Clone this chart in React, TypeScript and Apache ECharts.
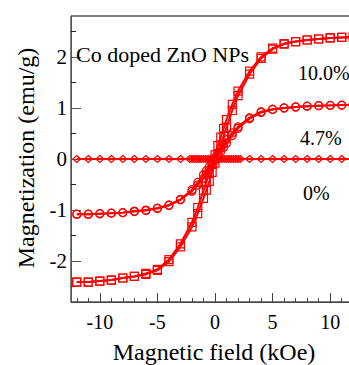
import React, { useEffect, useRef } from "react";
import * as echarts from "echarts";

const FIELD_DOWN = [12, 11, 10, 9, 8, 7, 6, 5, 4, 3, 2, 1.5, 1, 0.75, 0.5, 0.25, 0, -0.25, -0.5, -0.75, -1, -1.5, -2, -3, -4, -5, -6, -7, -8, -9, -10, -11, -12];
const FIELD_UP = [-12, -11, -10, -9, -8, -7, -6, -5, -4, -3, -2, -1.5, -1, -0.75, -0.5, -0.25, 0, 0.25, 0.5, 0.75, 1, 1.5, 2, 3, 4, 5, 6, 7, 8, 9, 10, 11, 12];

const M10_DOWN = [2.39, 2.38, 2.37, 2.35, 2.33, 2.3, 2.26, 2.17, 2.0, 1.72, 1.33, 1.07, 0.77, 0.6, 0.43, 0.26, 0.08, -0.1, -0.27, -0.45, -0.62, -0.95, -1.24, -1.66, -1.97, -2.16, -2.24, -2.3, -2.33, -2.37, -2.39, -2.41, -2.41];
const M10_UP = [-2.41, -2.41, -2.39, -2.37, -2.33, -2.3, -2.26, -2.18, -2.01, -1.72, -1.33, -1.07, -0.77, -0.61, -0.44, -0.26, -0.08, 0.1, 0.27, 0.45, 0.62, 0.95, 1.24, 1.66, 1.97, 2.15, 2.25, 2.3, 2.33, 2.35, 2.37, 2.38, 2.39];

const M47_DOWN = [1.06, 1.055, 1.05, 1.045, 1.035, 1.02, 1.0, 0.975, 0.925, 0.81, 0.63, 0.51, 0.38, 0.3, 0.21, 0.12, 0.03, -0.06, -0.15, -0.23, -0.31, -0.46, -0.6, -0.79, -0.9, -0.96, -1.0, -1.02, -1.05, -1.06, -1.07, -1.08, -1.08];
const M47_UP = [-1.08, -1.08, -1.07, -1.06, -1.05, -1.03, -1.01, -0.97, -0.91, -0.8, -0.63, -0.51, -0.38, -0.3, -0.21, -0.12, -0.03, 0.06, 0.15, 0.23, 0.31, 0.46, 0.6, 0.79, 0.91, 0.97, 1.0, 1.02, 1.035, 1.045, 1.05, 1.055, 1.06];

const FIELD_0 = [-12, -11, -10, -9, -8, -7, -6, -5, -4, -3, -2.2, -2, -1.8, -1.6, -1.4, -1.2, -1, -0.8, -0.6, -0.4, -0.2, 0, 0.2, 0.4, 0.6, 0.8, 1, 1.2, 1.4, 1.6, 1.8, 2, 2.2, 3, 4, 5, 6, 7, 8, 9, 10, 11, 12];
const M0 = [0, 0, 0, 0, 0, 0, 0, 0, 0, 0, 0, 0, 0, 0, 0, 0, 0, 0, 0, 0, 0, 0, 0, 0, 0, 0, 0, 0, 0, 0, 0, 0, 0, 0, 0, 0, 0, 0, 0, 0, 0, 0, 0];

const X_MAJOR = [-10, -5, 0, 5, 10];
const X_MINOR = [-12, -11, -9, -8, -7, -6, -4, -3, -2, -1, 1, 2, 3, 4, 6, 7, 8, 9, 11, 12];
const Y_MAJOR = [-2, -1, 0, 1, 2];
const Y_MINOR = [-2.5, -1.5, -0.5, 0.5, 1.5, 2.5];

const LABELS = [
  { text: "Co doped ZnO NPs", x: 76, y: 43, size: 22 },
  { text: "10.0%", x: 298, y: 63, size: 20 },
  { text: "4.7%", x: 300, y: 128, size: 20 },
  { text: "0%", x: 303, y: 183, size: 20 },
];

const FONT = "'Liberation Serif', 'Times New Roman', serif";
const RED = "#ff0000";

function zip(xs: number[], ys: number[]) {
  return xs.map((x, i) => [x, ys[i]]);
}

export default function App() {
  const ref = useRef<HTMLDivElement>(null);
  useEffect(() => {
    if (!ref.current) return;
    const chart = echarts.init(ref.current, null, { renderer: "svg" });
    const mkSeries = (data: number[][], symbol: string, size: any) => ({
      type: "line",
      data,
      symbol,
      symbolSize: size,
      showAllSymbol: true,
      lineStyle: { color: RED, width: 2 },
      itemStyle: { color: "rgba(0,0,0,0)", borderColor: RED, borderWidth: 1.2 },
      emphasis: { disabled: true },
      clip: true,
    });
    const xBase = { type: "value", min: -12.5, max: 12.5, gridIndex: 0, position: "bottom", splitLine: { show: false } };
    const yBase = { type: "value", min: -2.8, max: 2.8, gridIndex: 0, position: "left", splitLine: { show: false } };
    chart.setOption({
      animation: false,
      grid: {
        left: 71,
        top: 16,
        width: 288,
        height: 286,
        show: true,
        borderColor: "#000",
        borderWidth: 1,
        backgroundColor: "rgba(0,0,0,0)",
        containLabel: false,
        outerBoundsMode: "none",
      },
      xAxis: [
        {
          ...xBase,
          axisLine: { show: true, onZero: false, lineStyle: { color: "#444", width: 1 } },
          axisTick: { show: true, inside: true, length: 9, customValues: X_MAJOR, lineStyle: { color: "#444" } },
          axisLabel: {
            show: true,
            customValues: X_MAJOR,
            margin: 10,
            color: "#000",
            fontFamily: FONT,
            fontSize: 20,
          },
        },
        {
          ...xBase,
          axisLine: { show: false, onZero: false },
          axisTick: { show: true, inside: true, length: 4, customValues: X_MINOR, lineStyle: { color: "#444" } },
          axisLabel: { show: false },
        },
      ],
      yAxis: [
        {
          ...yBase,
          axisLine: { show: true, onZero: false, lineStyle: { color: "#555", width: 1 } },
          axisTick: { show: true, inside: true, length: 10, customValues: Y_MAJOR, lineStyle: { color: "#555" } },
          axisLabel: {
            show: true,
            customValues: Y_MAJOR,
            margin: 4,
            color: "#000",
            fontFamily: FONT,
            fontSize: 21,
          },
        },
        {
          ...yBase,
          axisLine: { show: false, onZero: false },
          axisTick: { show: true, inside: true, length: 5, customValues: Y_MINOR, lineStyle: { color: "#222" } },
          axisLabel: { show: false },
        },
      ],
      series: [
        mkSeries(zip(FIELD_DOWN, M10_DOWN), "rect", 8),
        mkSeries(zip(FIELD_UP, M10_UP), "rect", 8),
        mkSeries(zip(FIELD_DOWN, M47_DOWN), "circle", 8),
        mkSeries(zip(FIELD_UP, M47_UP), "circle", 8),
        mkSeries(zip(FIELD_0, M0), "diamond", [8, 7]),
      ],
      graphic: [
        ...LABELS.map((l) => ({
          type: "text",
          x: l.x,
          y: l.y,
          style: {
            text: l.text,
            fontFamily: FONT,
            fontSize: l.size,
            fill: "#000",
            textAlign: "left",
            textVerticalAlign: "alphabetic",
          },
          z: 10,
        })),
        {
          type: "text",
          x: 214,
          y: 352,
          style: {
            text: "Magnetic field (kOe)",
            fontFamily: FONT,
            fontSize: 24,
            fill: "#000",
            textAlign: "center",
            textVerticalAlign: "middle",
          },
        },
        {
          type: "text",
          x: 26,
          y: 158,
          rotation: Math.PI / 2,
          style: {
            text: "Magnetization (emu/g)",
            fontFamily: FONT,
            fontSize: 24,
            fill: "#000",
            textAlign: "center",
            textVerticalAlign: "middle",
          },
        },
      ],
    });
    return () => chart.dispose();
  }, []);
  return (
    <div style={{ position: "absolute", left: 0, top: 0, width: 349, height: 365, overflow: "hidden", background: "#fff" }}>
      <div ref={ref} style={{ width: 370, height: 365 }} />
    </div>
  );
}
